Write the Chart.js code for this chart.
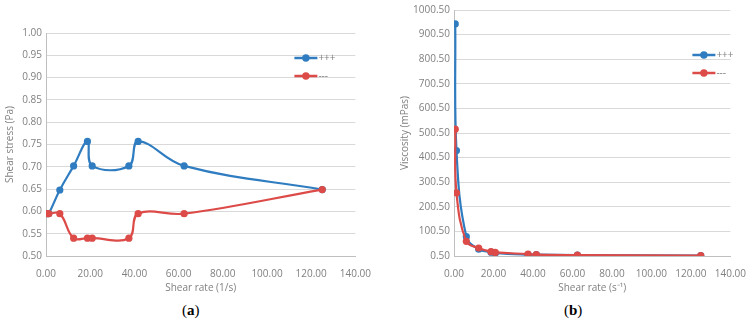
<!DOCTYPE html>
<html>
<head>
<meta charset="utf-8">
<script src="https://cdn.jsdelivr.net/npm/chart.js@4.4.1/dist/chart.umd.min.js"></script>
<style>
  body { margin: 0; background: #fff; width: 750px; height: 326px; position: relative; overflow: hidden; }
  .panel { position: absolute; top: 0; width: 375px; height: 300px; }
  .caption { position: absolute; top: 302px; font-family: "Liberation Serif", serif; font-size: 15px; color: #000; }
  .caption b { font-weight: bold; }
</style>
</head>
<body>
<div class="panel" style="left:0"><canvas id="chart-a" width="375" height="300"></canvas></div>
<div class="panel" style="left:375px"><canvas id="chart-b" width="375" height="300"></canvas></div>
<div class="caption" style="left:182px">(<b>a</b>)</div>
<div class="caption" style="left:564px">(<b>b</b>)</div>
<script>
/** Données */
const shearRate = [0.63, 1.25, 6.25, 12.5, 18.75, 20.9, 37.5, 41.7, 62.5, 125];
const stressPlus = [0.595, 0.595, 0.648, 0.702, 0.757, 0.702, 0.702, 0.757, 0.702, 0.649];
const stressMinus = [0.595, 0.595, 0.595, 0.54, 0.54, 0.54, 0.54, 0.595, 0.595, 0.649];
const viscPlus = [944, 429, 79, 28, 16, 12, 6, 6, 4, 2];
const viscMinus = [516, 257, 60, 33, 18, 15, 8, 6, 4, 2];
const labels = ['+++', '---'];
const xTicks = [0, 20, 40, 60, 80, 100, 120, 140];
const stressTicks = [0.50, 0.55, 0.60, 0.65, 0.70, 0.75, 0.80, 0.85, 0.90, 0.95, 1.00];
const viscTicks = [0.5, 100.5, 200.5, 300.5, 400.5, 500.5, 600.5, 700.5, 800.5, 900.5, 1000.5];

const bleu = '#2f7dc0';
const rouge = '#dc4b48';
const gris = '#808080';
const police = { family: 'Open Sans', size: 10 };

const toPoints = (xs, ys) => xs.map((x, i) => ({ x, y: ys[i] }));

/** Légende dessinée dans la zone du graphique, façon Excel */
const legendeExcel = {
  id: 'legendeExcel',
  afterDatasetsDraw(chart, args, opts) {
    const { ctx, chartArea } = chart;
    chart.data.datasets.forEach((ds, i) => {
      const x = chartArea.right - opts.dx;
      const y = chartArea.top + opts.dy + i * 18;
      ctx.save();
      ctx.strokeStyle = ds.borderColor;
      ctx.lineWidth = 2.5;
      ctx.beginPath();
      ctx.moveTo(x, y);
      ctx.lineTo(x + 23, y);
      ctx.stroke();
      ctx.fillStyle = ds.borderColor;
      ctx.beginPath();
      ctx.arc(x + 11.5, y, 3.7, 0, Math.PI * 2);
      ctx.fill();
      ctx.fillStyle = gris;
      ctx.font = '10px "Open Sans"';
      ctx.textBaseline = 'middle';
      ctx.fillText(ds.label, x + 24, y);
      ctx.restore();
    });
  }
};

const dessineMoiUneCourbe = function (id, dataPlus, dataMinus, yTicks, yTitle, xTitle, layout, legend) {
  const fixeTicks = arr => scale => { scale.ticks = arr.map(v => ({ value: v })); };
  const data = {
    datasets: [
      { label: labels[0], data: toPoints(shearRate, dataPlus), borderColor: bleu, backgroundColor: bleu, order: 1 },
      { label: labels[1], data: toPoints(shearRate, dataMinus), borderColor: rouge, backgroundColor: rouge, order: 0 }
    ]
  };
  const options = {
    responsive: false,
    animation: false,
    showLine: true,
    layout: { padding: layout.padding },
    elements: {
      line: { borderWidth: 2.2, tension: 0.4 },
      point: { radius: 3.6, borderWidth: 0 }
    },
    plugins: { legend: { display: false }, tooltip: { enabled: false }, legendeExcel: legend },
    scales: {
      x: {
        type: 'linear',
        min: 0, max: 140,
        afterBuildTicks: fixeTicks(xTicks),
        afterFit: s => { s.height = layout.xHeight; },
        grid: { display: false },
        border: { color: '#bfbfbf' },
        ticks: { color: gris, font: police, padding: 4, maxRotation: 0, callback: v => v.toFixed(2) },
        title: { display: true, text: xTitle, color: gris, font: police, padding: { top: 2, bottom: 6 } }
      },
      y: {
        min: yTicks[0], max: yTicks[yTicks.length - 1],
        afterBuildTicks: fixeTicks(yTicks),
        afterFit: s => { s.width = layout.yWidth; },
        grid: { color: '#d9d9d9', drawTicks: false },
        border: { color: '#bfbfbf' },
        ticks: { color: gris, font: police, padding: 4, callback: v => v.toFixed(2) },
        title: { display: true, text: yTitle, color: gris, font: police, padding: { top: 4, bottom: 0 } }
      }
    }
  };
  new Chart(document.getElementById(id), { type: 'scatter', data, options, plugins: [legendeExcel] });
};

dessineMoiUneCourbe('chart-a', stressPlus, stressMinus, stressTicks, 'Shear stress (Pa)', 'Shear rate (1/s)',
  { padding: { left: 0, top: 33, right: 12, bottom: 0 }, yWidth: 46, xHeight: 44 }, { dx: 61, dy: 25 });

dessineMoiUneCourbe('chart-b', viscPlus, viscMinus, viscTicks, 'Viscosity (mPas)', 'Shear rate (s\u207B\u00B9)',
  { padding: { left: 20, top: 7, right: 18, bottom: 0 }, yWidth: 59, xHeight: 44 }, { dx: 38, dy: 45 });
</script>
</body>
</html>
